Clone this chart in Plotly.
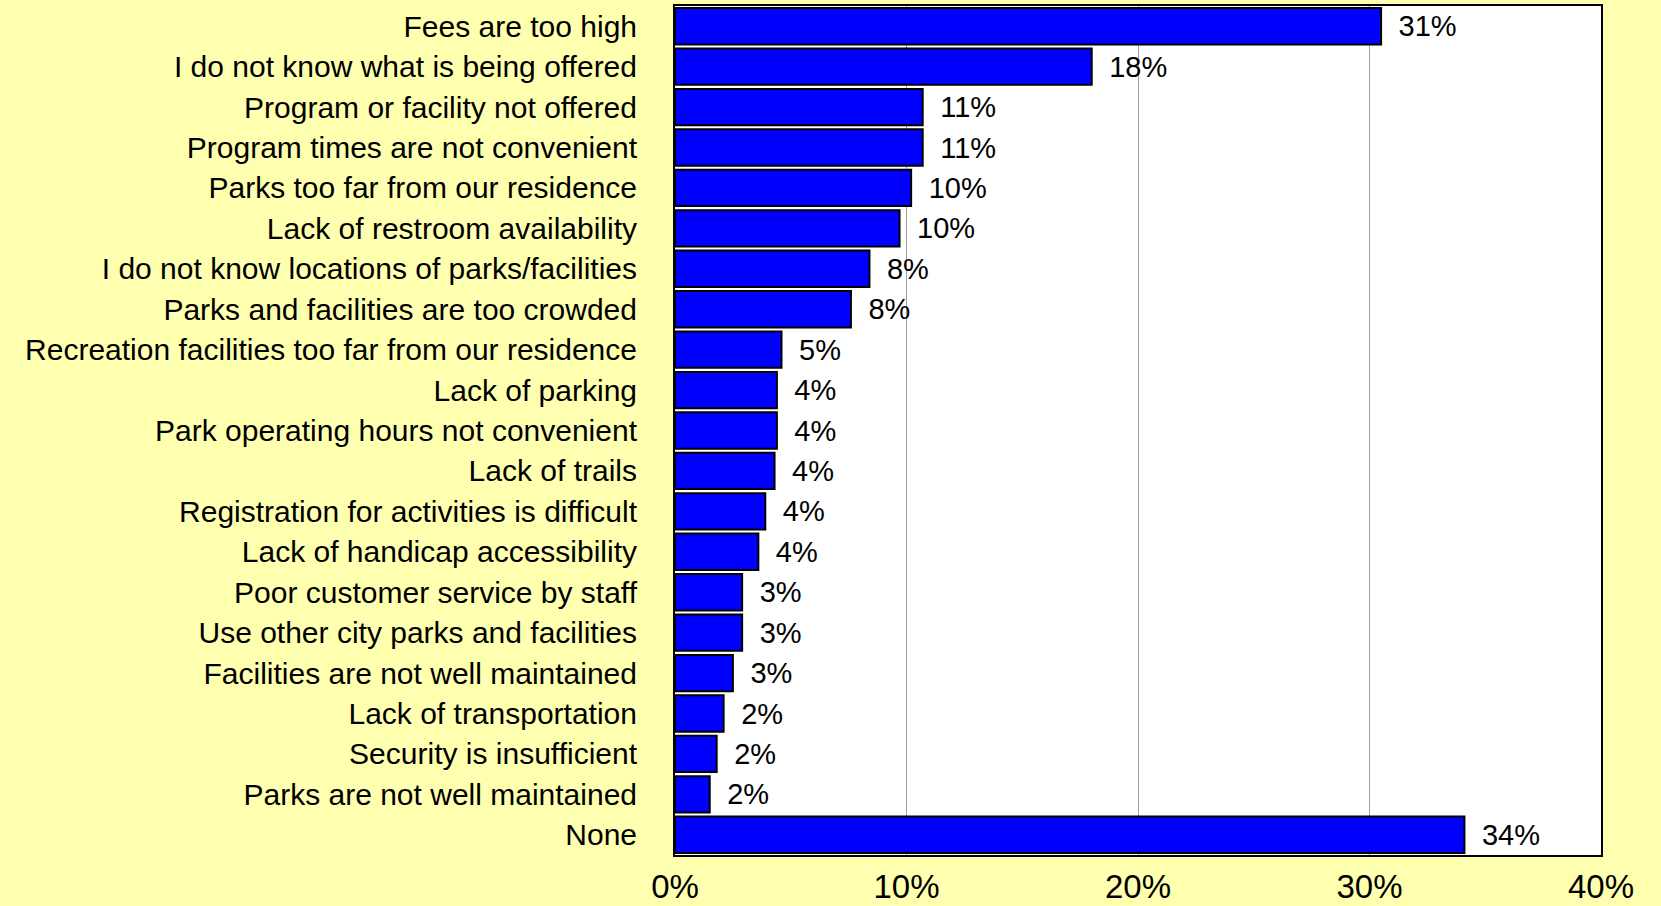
import plotly.graph_objects as go

categories = [
    "Fees are too high",
    "I do not know what is being offered",
    "Program or facility not offered",
    "Program times are not convenient",
    "Parks too far from our residence",
    "Lack of restroom availability",
    "I do not know locations of parks/facilities",
    "Parks and facilities are too crowded",
    "Recreation facilities too far from our residence",
    "Lack of parking",
    "Park operating hours not convenient",
    "Lack of trails",
    "Registration for activities is difficult",
    "Lack of handicap accessibility",
    "Poor customer service by staff",
    "Use other city parks and facilities",
    "Facilities are not well maintained",
    "Lack of transportation",
    "Security is insufficient",
    "Parks are not well maintained",
    "None",
]
values = [30.5, 18.0, 10.7, 10.7, 10.2, 9.7, 8.4, 7.6, 4.6, 4.4, 4.4, 4.3,
          3.9, 3.6, 2.9, 2.9, 2.5, 2.1, 1.8, 1.5, 34.1]
value_labels = ["31%", "18%", "11%", "11%", "10%", "10%", "8%", "8%", "5%", "4%",
                "4%", "4%", "4%", "4%", "3%", "3%", "3%", "2%", "2%", "2%", "34%"]
tick_vals = [0, 10, 20, 30, 40]
tick_text = ["0%", "10%", "20%", "30%", "40%"]

fig = go.Figure()
fig.add_trace(go.Bar(
    x=values, y=categories, orientation="h",
    marker=dict(color="#0000FF", line=dict(color="black", width=2)),
    text=["\u2002" + t for t in value_labels], textposition="outside", cliponaxis=False,
    textfont=dict(family="Liberation Sans, Arial", size=29, color="black"),
))

fig.update_layout(
    width=1661, height=906,
    paper_bgcolor="#FFFFB0", plot_bgcolor="white",
    margin=dict(l=675, r=60, t=6, b=51),
    bargap=0.1, showlegend=False,
    font=dict(family="Liberation Sans, Arial", color="black"),
)
fig.update_xaxes(
    range=[0, 40], tickvals=tick_vals, ticktext=tick_text,
    showgrid=True, gridcolor="#A0A0A0", gridwidth=1,
    showline=True, linecolor="black", linewidth=2, mirror=True,
    ticks="", tickfont=dict(size=33), automargin=False, ticklabelstandoff=1,
    zeroline=False,
)
fig.update_yaxes(
    autorange="reversed", showline=True, linecolor="black", linewidth=2, mirror=True,
    ticks="", tickfont=dict(size=30), automargin=False, ticklabelstandoff=30,
)
fig.write_html("out.html", config={"displayModeBar": False},
               post_script="document.body.style.margin='0px';")
